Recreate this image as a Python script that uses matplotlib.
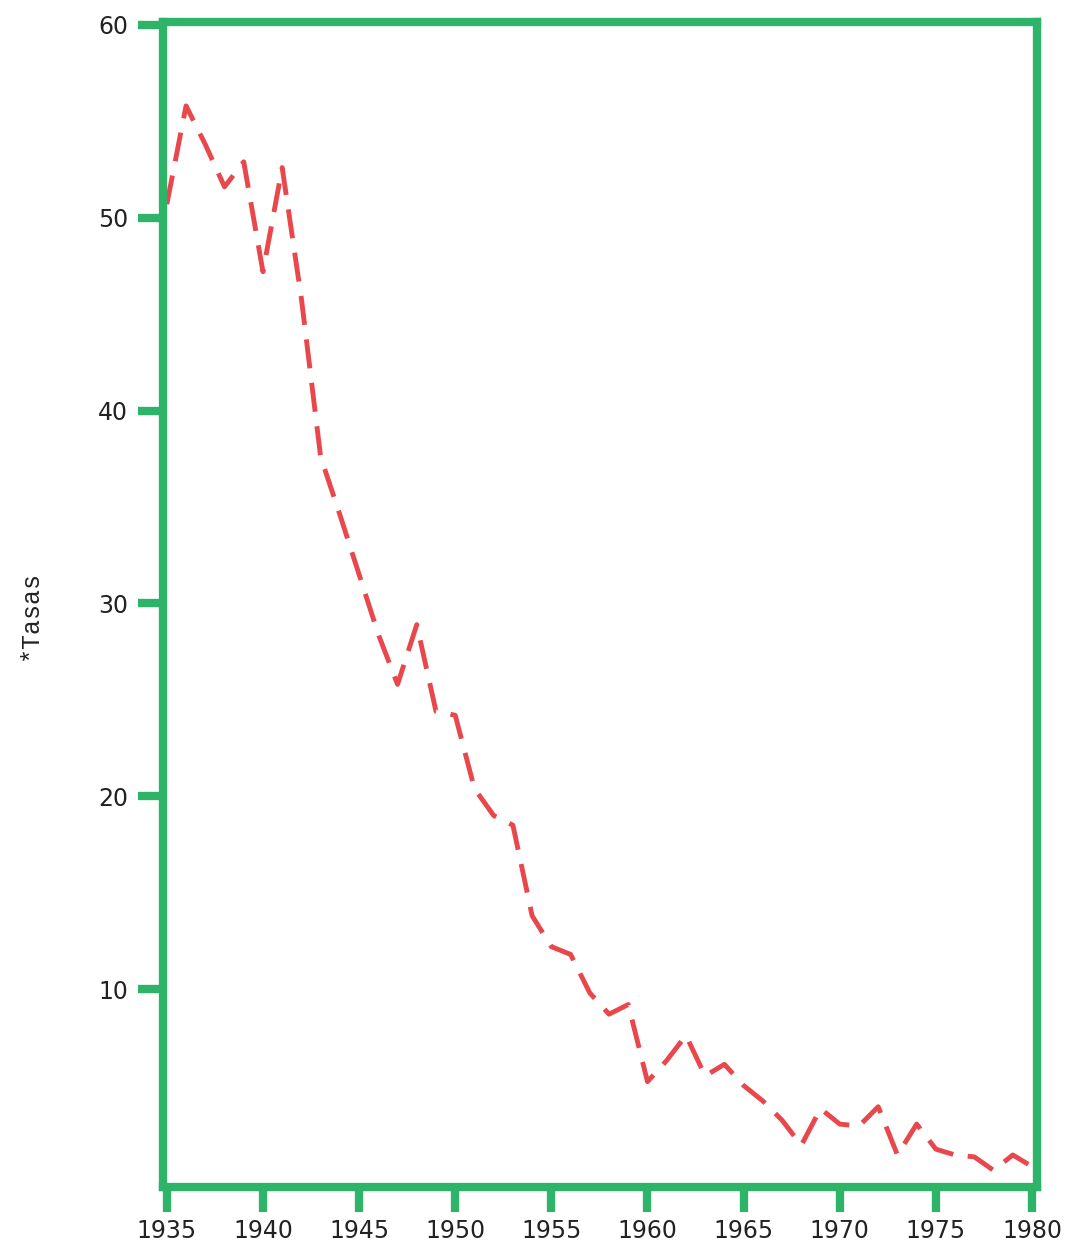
import matplotlib
matplotlib.use("Agg")
import matplotlib.pyplot as plt

years = list(range(1935, 1981))
tasas = [50.7, 55.8, 53.8, 51.6, 52.9, 47.2, 52.6, 45.8, 37.6, 34.6,
         31.5, 28.4, 25.8, 28.9, 24.4, 24.2, 20.4, 19.0, 18.5, 13.8,
         12.2, 11.8, 9.8, 8.7, 9.2, 5.2, 6.3, 7.6, 5.5, 6.1,
         5.0, 4.2, 3.2, 1.9, 3.8, 3.0, 2.9, 3.9, 1.4, 3.0,
         1.7, 1.4, 1.3, 0.6, 1.4, 0.8]
x_ticks = list(range(1935, 1981, 5))
y_ticks = [10, 20, 30, 40, 50, 60]
y_label = "*Tasas"

green = "#2DB469"
red = "#E8474B"

fig = plt.figure(figsize=(10.68, 12.48), dpi=100)
ax = fig.add_axes([0.1526, 0.0489, 0.971 - 0.1526, 0.9824 - 0.0489])

ax.plot(years, tasas, color=red, lw=3.5, linestyle=(0, (6, 3)),
        solid_capstyle="butt", dash_capstyle="butt")

ax.set_xlim(1934.8, 1980.26)
ax.set_ylim(-0.26, 60.15)
ax.set_xticks(x_ticks)
ax.set_yticks(y_ticks)
ax.set_xticklabels([str(v) for v in x_ticks])
ax.set_yticklabels([str(v) for v in y_ticks])

for s in ax.spines.values():
    s.set_color(green)
    s.set_linewidth(6)

ax.tick_params(axis="both", direction="out", length=18, width=6, color=green,
               labelsize=17, labelcolor="#222222")
ax.tick_params(axis="y", pad=7)
ax.tick_params(axis="x", pad=5)

fig.text(0.028, 0.507, y_label, rotation=90, ha="center", va="center",
         fontsize=18, color="#222222", family="Liberation Mono")

fig.savefig("out.png", dpi=100, facecolor="white")
